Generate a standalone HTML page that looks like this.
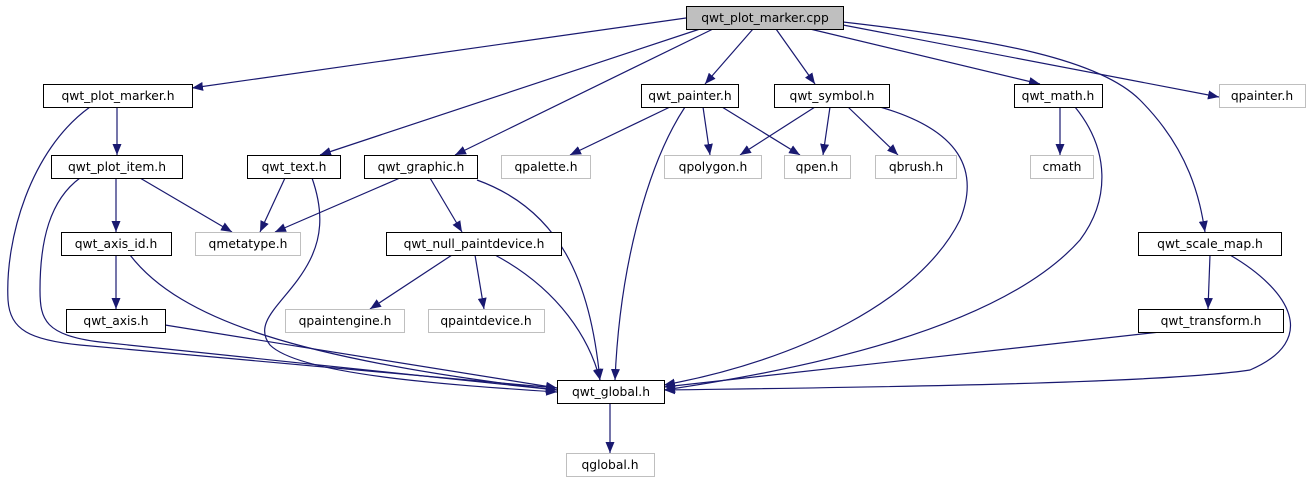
<!DOCTYPE html>
<html><head><meta charset="utf-8"><style>
html,body{margin:0;padding:0;background:#fff;}
svg{display:block;}
text{font-family:"DejaVu Sans","Liberation Sans",sans-serif;font-size:12.3px;fill:#000;}
</style></head><body>
<svg width="1312" height="485" viewBox="0 0 1312 485" xmlns="http://www.w3.org/2000/svg">
<defs>
<marker id="a" viewBox="0 0 11 9" refX="11" refY="4.5" markerWidth="11" markerHeight="9" markerUnits="userSpaceOnUse" orient="auto">
<path d="M0,0 L11,4.5 L0,9 z" fill="#191970"/>
</marker>
</defs>
<g fill="none" stroke="#191970" stroke-width="1.2" marker-end="url(#a)">
<path d="M686,18 L192,88"/>
<path d="M700,29 L320,155"/>
<path d="M713,29 L455,155"/>
<path d="M753,29 L705,84"/>
<path d="M776,29 L815,84"/>
<path d="M810,29 L1040,84"/>
<path d="M843,25 L1219,97"/>
<path d="M843,22 C1000,40 1100,60 1140,100 C1190,150 1200,200 1205,232"/>
<path d="M117,107 L117,155"/>
<path d="M90,107 C30,150 5,240 8,300 C10,330 30,340 80,345 L557,388"/>
<path d="M116,178 L116,232"/>
<path d="M140,178 L232,232"/>
<path d="M80,178 C50,200 40,240 40,290 C40,320 45,335 100,342 L557,390"/>
<path d="M285,178 L260,232"/>
<path d="M312,178 C325,215 320,240 310,260 C290,300 250,320 270,345 C300,375 450,385 557,392"/>
<path d="M400,178 L275,232"/>
<path d="M430,178 L462,232"/>
<path d="M477,180 C560,210 590,280 600,380"/>
<path d="M670,107 L570,155"/>
<path d="M703,107 L710,155"/>
<path d="M722,107 L800,155"/>
<path d="M685,107 C650,160 620,260 615,380"/>
<path d="M815,107 L740,155"/>
<path d="M830,107 L823,155"/>
<path d="M848,107 L898,155"/>
<path d="M880,107 C960,130 980,170 960,220 C920,300 800,360 664,385"/>
<path d="M1060,107 L1060,155"/>
<path d="M1075,107 C1110,150 1110,200 1080,240 C1000,330 800,370 664,390"/>
<path d="M452,255 L370,309"/>
<path d="M475,255 L484,309"/>
<path d="M495,255 C560,290 590,340 600,380"/>
<path d="M116,255 L116,309"/>
<path d="M130,255 C180,320 300,360 557,390"/>
<path d="M165,325 L557,388"/>
<path d="M1210,255 L1208,309"/>
<path d="M1230,255 C1290,290 1320,340 1250,370 C1150,385 800,388 664,390"/>
<path d="M1160,332 L664,387"/>
<path d="M610,403 L610,453"/>
</g>
<g stroke-width="1">
<rect x="686.5" y="6.5" width="157" height="23" fill="#bfbfbf" stroke="#000"/>
<g fill="#fff" stroke="#000">
<rect x="43.5" y="84.5" width="149" height="23"/>
<rect x="641.5" y="84.5" width="97" height="23"/>
<rect x="774.5" y="84.5" width="115" height="23"/>
<rect x="1014.5" y="84.5" width="88" height="23"/>
<rect x="51.5" y="155.5" width="131" height="23"/>
<rect x="247.5" y="155.5" width="93" height="23"/>
<rect x="364.5" y="155.5" width="113" height="23"/>
<rect x="61.5" y="232.5" width="110" height="23"/>
<rect x="386.5" y="232.5" width="175" height="23"/>
<rect x="1138.5" y="232.5" width="143" height="23"/>
<rect x="66.5" y="309.5" width="99" height="23"/>
<rect x="1138.5" y="309.5" width="145" height="23"/>
<rect x="557.5" y="380.5" width="107" height="23"/>
</g>
<g fill="#fff" stroke="#bfbfbf">
<rect x="1219.5" y="84.5" width="86" height="23"/>
<rect x="501.5" y="155.5" width="89" height="23"/>
<rect x="664.5" y="155.5" width="97" height="23"/>
<rect x="784.5" y="155.5" width="66" height="23"/>
<rect x="875.5" y="155.5" width="81" height="23"/>
<rect x="1030.5" y="155.5" width="63" height="23"/>
<rect x="195.5" y="232.5" width="105" height="23"/>
<rect x="285.5" y="309.5" width="119" height="23"/>
<rect x="428.5" y="309.5" width="116" height="23"/>
<rect x="566.5" y="453.5" width="88" height="23"/>
</g>
</g>
<g text-anchor="middle">
<text x="765" y="22">qwt_plot_marker.cpp</text>
<text x="118" y="100">qwt_plot_marker.h</text>
<text x="690" y="100">qwt_painter.h</text>
<text x="832" y="100">qwt_symbol.h</text>
<text x="1058" y="100">qwt_math.h</text>
<text x="1262" y="100" fill="#333">qpainter.h</text>
<text x="117" y="171">qwt_plot_item.h</text>
<text x="294" y="171">qwt_text.h</text>
<text x="421" y="171">qwt_graphic.h</text>
<text x="546" y="171">qpalette.h</text>
<text x="713" y="171">qpolygon.h</text>
<text x="817" y="171">qpen.h</text>
<text x="916" y="171">qbrush.h</text>
<text x="1062" y="171">cmath</text>
<text x="116" y="248">qwt_axis_id.h</text>
<text x="248" y="248">qmetatype.h</text>
<text x="474" y="248">qwt_null_paintdevice.h</text>
<text x="1210" y="248">qwt_scale_map.h</text>
<text x="116" y="325">qwt_axis.h</text>
<text x="345" y="325">qpaintengine.h</text>
<text x="486" y="325">qpaintdevice.h</text>
<text x="1211" y="325">qwt_transform.h</text>
<text x="611" y="396">qwt_global.h</text>
<text x="610" y="469">qglobal.h</text>
</g>
</svg>
</body></html>
